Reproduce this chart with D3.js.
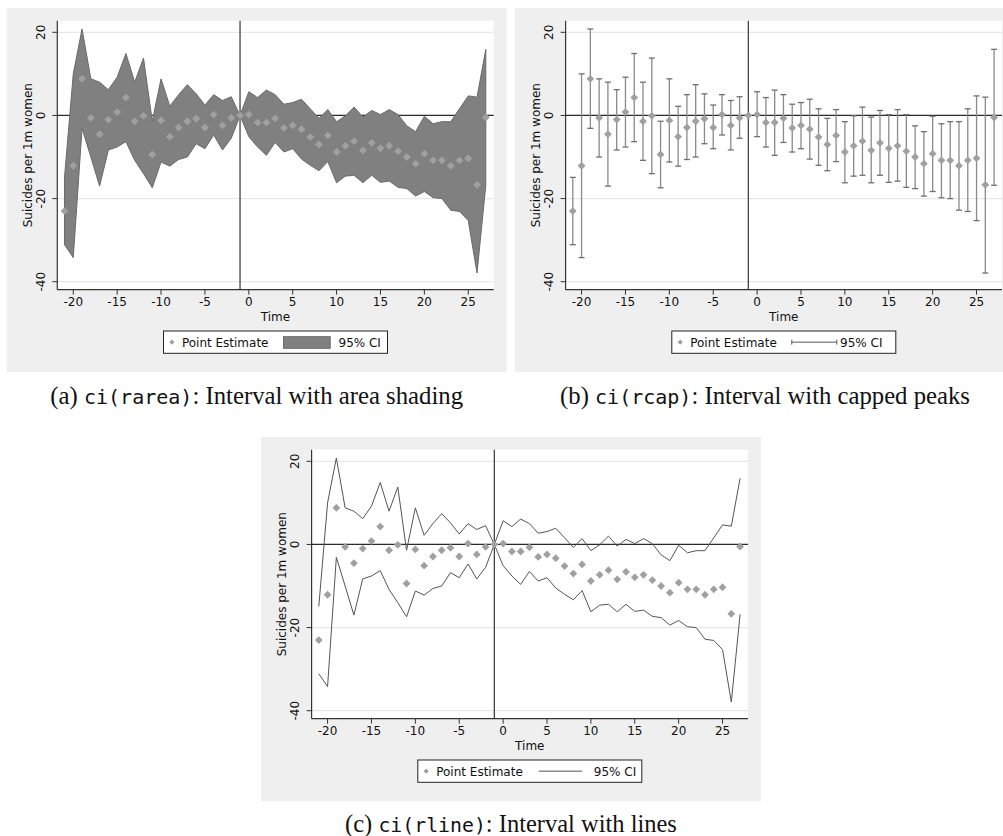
<!DOCTYPE html>
<html><head><meta charset="utf-8">
<script src="https://cdn.jsdelivr.net/npm/d3@7"></script>
<style>
body{margin:0;background:#fff}
svg{display:block}
.sans{font-family:"DejaVu Sans",sans-serif}
</style>
</head><body>
<svg id="chart" width="1003" height="836"></svg>
<script>
// ---------- data ----------
const timeVals = [-21,-20,-19,-18,-17,-16,-15,-14,-13,-12,-11,-10,-9,-8,-7,-6,-5,-4,-3,-2,-1,
  0,1,2,3,4,5,6,7,8,9,10,11,12,13,14,15,16,17,18,19,20,21,22,23,24,25,26,27];
const pointEst = [-23.0,-12.1,8.8,-0.6,-4.5,-1.0,0.8,4.3,-1.4,-0.1,-9.4,-1.2,-5.1,-2.9,-1.4,-0.8,-2.9,0.2,-2.4,-0.6,0,
  0.2,-1.7,-1.7,-0.7,-3.0,-2.4,-3.3,-5.2,-7.0,-4.8,-8.8,-7.3,-6.2,-8.4,-6.6,-7.9,-7.3,-8.6,-10.0,-11.6,-9.2,-10.8,-10.8,-12.1,-10.8,-10.3,-16.7,-0.5];
const ciUpper = [-14.9,10.0,20.8,8.8,8.0,6.2,9.2,14.9,8.0,13.8,-1.4,8.8,2.2,5.0,7.4,5.2,2.5,5.0,3.6,4.5,0,
  5.7,4.3,6.1,5.0,2.7,3.1,3.9,1.6,-0.7,1.4,-1.5,-0.1,2.0,-0.4,1.2,0.2,1.4,0.2,-2.5,-3.9,-0.2,-2.0,-1.5,-1.5,1.6,4.7,4.4,15.9];
const ciLower = [-31.1,-34.2,-3.1,-10.0,-17.0,-8.3,-7.6,-6.3,-10.8,-14.0,-17.4,-11.2,-12.2,-10.6,-10.0,-6.8,-8.0,-4.7,-8.3,-5.5,0,
  -5.1,-7.6,-9.6,-6.5,-8.8,-8.0,-10.5,-12.0,-13.3,-11.1,-16.2,-14.6,-14.4,-16.2,-14.4,-16.1,-15.8,-17.3,-17.6,-19.4,-18.3,-19.8,-20.0,-22.8,-23.1,-25.3,-37.9,-16.8];
const xTicks = [-20,-15,-10,-5,0,5,10,15,20,25];
const yTicks = [-40,-20,0,20];
const refX = -1;
const yTitle = "Suicides per 1m women";
const xTitle = "Time";
const legendLabels = ["Point Estimate", "95% CI"];

const rows = timeVals.map((t,i)=>({t, est:pointEst[i], lo:ciLower[i], hi:ciUpper[i]}));

// ---------- layout ----------
const PW = 500, PH = 364;
const L = 50.6, R = 487, T = 12.7, B = 281.7;
const panels = [
  {type:"rarea", ox:6.7, oy:8, cap:["(a) ","ci(rarea)",": Interval with area shading"], capW:413, capX:256.7, capY:403.5},
  {type:"rcap",  ox:515, oy:8, cap:["(b) ","ci(rcap)",": Interval with capped peaks"], capW:410, capX:765, capY:403.5},
  {type:"rline", ox:261, oy:437, cap:["(c) ","ci(rline)",": Interval with lines"], capW:332, capX:511, capY:832}
];

const svg = d3.select("#chart");
svg.append("rect").attr("width",1003).attr("height",836).attr("fill","#fff");

const x = d3.scaleLinear().domain([-21.82, 27.9]).range([L, R]);
const y = d3.scaleLinear().domain([-41.92, 22.79]).range([B, T]);
const diamond = d3.symbol().type(d3.symbolDiamond2 || d3.symbolDiamond);

function diamondPath(s){ return `M0,${-s}L${s},0L0,${s}L${-s},0Z`; }

const ptColor = "#a0a0a0";

panels.forEach(p=>{
  const g = svg.append("g").attr("transform",`translate(${p.ox},${p.oy})`);
  g.append("rect").attr("width",PW).attr("height",PH).attr("fill","#efefef");
  g.append("rect").attr("x",L).attr("y",T).attr("width",R-L).attr("height",B-T).attr("fill","#fff");

  // gridlines
  g.selectAll("line.grid").data(yTicks.filter(v=>v!==0)).join("line")
    .attr("x1",L).attr("x2",R).attr("y1",d=>y(d)).attr("y2",d=>y(d))
    .attr("stroke","#e8e8e8").attr("stroke-width",1.2);

  // reference lines
  g.append("line").attr("x1",L).attr("x2",R).attr("y1",y(0)).attr("y2",y(0))
    .attr("stroke","#2a2a2a").attr("stroke-width",1.3);
  g.append("line").attr("x1",x(refX)).attr("x2",x(refX)).attr("y1",T).attr("y2",B)
    .attr("stroke","#444").attr("stroke-width",1.3);

  if(p.type==="rarea"){
    const area = d3.area().x(d=>x(d.t)).y0(d=>y(d.lo)).y1(d=>y(d.hi));
    g.append("path").datum(rows).attr("d",area)
      .attr("fill","#808080").attr("stroke","#6a6a6a").attr("stroke-width",1);
  } else if(p.type==="rcap"){
    const ci = rows.filter(d=>d.hi!==d.lo);
    const cg = g.append("g").attr("stroke","#707070").attr("stroke-width",1.3);
    cg.selectAll("line.v").data(ci).join("line")
      .attr("x1",d=>x(d.t)).attr("x2",d=>x(d.t)).attr("y1",d=>y(d.lo)).attr("y2",d=>y(d.hi))
      .attr("stroke","#8a8a8a");
    cg.selectAll("line.h").data(ci).join("line")
      .attr("x1",d=>x(d.t)-3).attr("x2",d=>x(d.t)+3).attr("y1",d=>y(d.hi)).attr("y2",d=>y(d.hi));
    cg.selectAll("line.l").data(ci).join("line")
      .attr("x1",d=>x(d.t)-3).attr("x2",d=>x(d.t)+3).attr("y1",d=>y(d.lo)).attr("y2",d=>y(d.lo));
  } else {
    const lu = d3.line().x(d=>x(d.t)).y(d=>y(d.hi));
    const ll = d3.line().x(d=>x(d.t)).y(d=>y(d.lo));
    g.append("path").datum(rows).attr("d",lu).attr("fill","none").attr("stroke","#555").attr("stroke-width",1);
    g.append("path").datum(rows).attr("d",ll).attr("fill","none").attr("stroke","#555").attr("stroke-width",1);
  }

  // points
  g.selectAll("path.pt").data(rows).join("path")
    .attr("transform",d=>`translate(${x(d.t)},${y(d.est)})`)
    .attr("d",diamondPath(3.9)).attr("fill",ptColor);

  // axes
  const ax = g.append("g").attr("class","sans");
  ax.append("line").attr("x1",L).attr("x2",L).attr("y1",T).attr("y2",B).attr("stroke","#333").attr("stroke-width",1.2);
  ax.append("line").attr("x1",L).attr("x2",R).attr("y1",B).attr("y2",B).attr("stroke","#333").attr("stroke-width",1.2);
  ax.selectAll("line.xt").data(xTicks).join("line")
    .attr("x1",d=>x(d)).attr("x2",d=>x(d)).attr("y1",B).attr("y2",B+5).attr("stroke","#333");
  ax.selectAll("text.xt").data(xTicks).join("text")
    .attr("x",d=>x(d)).attr("y",298).attr("text-anchor","middle")
    .attr("font-size",12).attr("fill","#111").text(d=>d);
  ax.selectAll("line.yt").data(yTicks).join("line")
    .attr("x1",L-5).attr("x2",L).attr("y1",d=>y(d)).attr("y2",d=>y(d)).attr("stroke","#333");
  ax.selectAll("text.yt").data(yTicks).join("text")
    .attr("transform",d=>`translate(38.4,${y(d)}) rotate(-90)`).attr("text-anchor","middle")
    .attr("font-size",12).attr("fill","#111").text(d=>d);
  ax.append("text").attr("transform",`translate(25,${(T+B)/2}) rotate(-90)`).attr("text-anchor","middle")
    .attr("font-size",12).attr("fill","#111").text(yTitle);
  ax.append("text").attr("x",(L+R)/2).attr("y",312.7).attr("text-anchor","middle")
    .attr("font-size",12).attr("fill","#111").text(xTitle);

  // legend
  const lw = 224, lh = 22.3;
  const lx = (L+R)/2 - lw/2, ly = 323;
  const lg = g.append("g").attr("class","sans").attr("transform",`translate(${lx},${ly})`);
  lg.append("rect").attr("width",lw).attr("height",lh).attr("fill","#fff").attr("stroke","#222").attr("stroke-width",1);
  lg.append("path").attr("transform",`translate(8.4,${lh/2})`).attr("d",diamondPath(2.6)).attr("fill",ptColor);
  lg.append("text").attr("x",18.4).attr("y",16.3).attr("font-size",12).attr("fill","#111").text(legendLabels[0]);
  let ciX = 175;
  if(p.type==="rarea"){
    lg.append("rect").attr("x",120).attr("y",5.7).attr("width",46.7).attr("height",11.6)
      .attr("fill","#808080").attr("stroke","#6a6a6a");
  } else if(p.type==="rcap"){
    lg.append("line").attr("x1",120).attr("x2",165).attr("y1",lh/2).attr("y2",lh/2).attr("stroke","#555");
    lg.append("line").attr("x1",120).attr("x2",120).attr("y1",lh/2-2.5).attr("y2",lh/2+2.5).attr("stroke","#555");
    lg.append("line").attr("x1",165).attr("x2",165).attr("y1",lh/2-2.5).attr("y2",lh/2+2.5).attr("stroke","#555");
    ciX = 168.3;
  } else {
    lg.append("line").attr("x1",121).attr("x2",164.4).attr("y1",lh/2).attr("y2",lh/2).attr("stroke","#555");
    ciX = 176;
  }
  lg.append("text").attr("x",ciX).attr("y",16.3).attr("font-size",12).attr("fill","#111").text(legendLabels[1]);

  // caption
  const romanSize = 21, monoSize = 17;
  const ct = svg.append("text").attr("x",p.capX).attr("y",p.capY).attr("text-anchor","middle").attr("fill","#111");
  const t1 = ct.append("tspan").attr("font-family","'Liberation Serif',serif").attr("font-size",romanSize).text(p.cap[0]);
  const t2 = ct.append("tspan").attr("font-family","'DejaVu Sans Mono',monospace").attr("font-size",monoSize).text(p.cap[1]);
  const t3 = ct.append("tspan").attr("font-family","'Liberation Serif',serif").attr("font-size",romanSize).text(p.cap[2]);
  const w = ct.node().getComputedTextLength();
  const s = p.capW / w;
  t1.attr("font-size",romanSize*s); t3.attr("font-size",romanSize*s); t2.attr("font-size",monoSize*s);
});
</script>
</body></html>
